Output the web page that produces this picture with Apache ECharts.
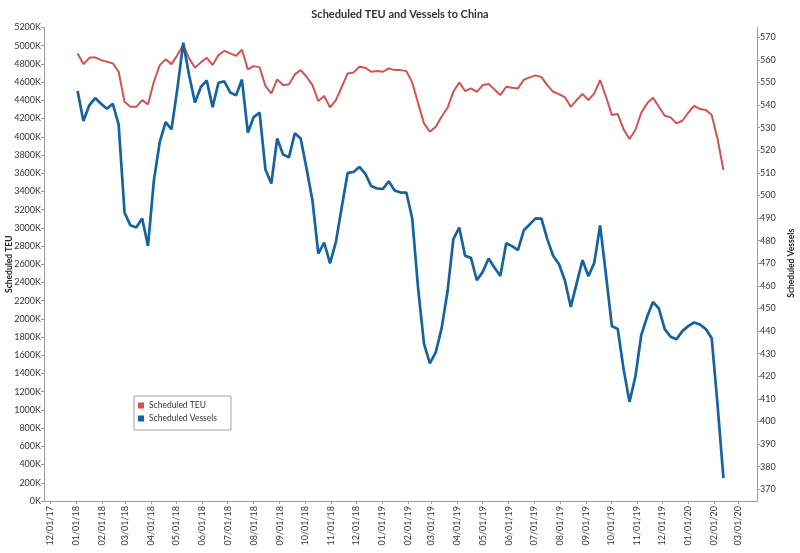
<!DOCTYPE html>
<html><head><meta charset="utf-8">
<script src="https://cdn.jsdelivr.net/npm/echarts@6/dist/echarts.min.js"></script>
<style>html,body{margin:0;padding:0;background:#fff}#c{width:800px;height:553px}</style>
</head><body><div id="c"></div><script>
// Weekly observations, first week starting 01/03/18
const firstWeek = '01/03/18';
const teu = [
 4915, 4798, 4867, 4872, 4842, 4824, 4806, 4714, 4384, 4329,
 4329, 4403, 4356, 4604, 4787, 4850, 4798, 4897, 5007, 4861,
 4758, 4817, 4867, 4787, 4897, 4944, 4916, 4889, 4955, 4740,
 4776, 4762, 4557, 4477, 4630, 4568, 4575, 4685, 4732, 4659,
 4568, 4392, 4447, 4323, 4403, 4549, 4696, 4707, 4769, 4758,
 4714, 4721, 4714, 4751, 4732, 4732, 4721, 4597, 4367, 4147,
 4055, 4110, 4220, 4318, 4494, 4597, 4502, 4531, 4494, 4568,
 4579, 4520, 4458, 4549, 4538, 4531, 4626, 4652, 4674, 4656,
 4568, 4494, 4469, 4433, 4329, 4403, 4469, 4403, 4477, 4623,
 4439, 4238, 4249, 4081, 3975, 4074, 4264, 4367, 4428, 4329,
 4231, 4213, 4147, 4176, 4264, 4340, 4304, 4293, 4238, 3975, 3634
];
const vessels = [
 546.2, 533.0, 539.9, 543.1, 540.6, 538.4, 540.6, 531.4, 492.5, 486.8,
 485.8, 489.8, 477.7, 506.7, 523.7, 532.5, 529.3, 547.3, 567.6, 553.2,
 541.1, 548.0, 550.9, 539.1, 549.9, 550.5, 545.6, 544.3, 551.3, 527.8,
 534.7, 536.7, 511.5, 505.3, 525.2, 518.1, 516.9, 527.5, 525.2, 511.9,
 497.9, 474.3, 479.2, 470.0, 479.5, 494.9, 510.0, 510.4, 512.6, 509.7,
 504.2, 503.1, 502.9, 506.3, 502.2, 501.3, 501.3, 489.8, 458.9, 434.5,
 425.7, 430.6, 441.2, 457.4, 480.7, 485.8, 473.3, 472.4, 462.5, 466.2,
 472.1, 468.1, 464.4, 478.9, 477.6, 475.8, 484.6, 487.2, 489.9, 489.8,
 480.7, 473.3, 469.6, 462.4, 450.7, 461.1, 471.4, 464.3, 470.2, 486.8,
 464.7, 442.2, 440.9, 423.1, 408.7, 419.8, 438.2, 446.3, 452.9, 450.0,
 440.9, 437.5, 436.4, 440.0, 442.2, 443.8, 442.9, 440.9, 436.8, 407.3, 374.9
];
const tickLabels = ['12/01/17','01/01/18','02/01/18','03/01/18','04/01/18','05/01/18','06/01/18',
 '07/01/18','08/01/18','09/01/18','10/01/18','11/01/18','12/01/18','01/01/19','02/01/19','03/01/19',
 '04/01/19','05/01/19','06/01/19','07/01/19','08/01/19','09/01/19','10/01/19','11/01/19','12/01/19',
 '01/01/20','02/01/20','03/01/20'];
const xRange = ['11/24/17', '03/23/20'];
const seriesNames = ['Scheduled TEU', 'Scheduled Vessels'];
const colors = ['#d55252', '#1563a0'];

function parseD(s){ const p = s.split('/').map(Number); return Date.UTC(2000 + p[2], p[0]-1, p[1]); }
const fw = parseD(firstWeek);
const DAY = 86400000;
const weeks = teu.map((_, i) => fw + 7 * i * DAY);
const tickVals = tickLabels.map(parseD);
const xMin = parseD(xRange[0]), xMax = parseD(xRange[1]);
function fmt(v){ const i = tickVals.indexOf(v); return i >= 0 ? tickLabels[i] : ''; }

const axisColor = '#9a9a9a';
const lblStyle = {fontSize: 9, color: '#333', fontFamily: 'Lato'};
const nameStyle = {fontWeight: 'bold', fontSize: 8.5, color: '#222', fontFamily: 'Lato'};
const chart = echarts.init(document.getElementById('c'));
chart.setOption({
  animation: false,
  textStyle: {fontFamily: 'Lato'},
  title: {text: 'Scheduled TEU and Vessels to China', left: 'center', top: 4,
    textStyle: {fontSize: 11, fontWeight: 'bold', color: '#333', fontFamily: 'Lato'}},
  legend: {data: seriesNames, orient: 'vertical', left: 134, top: 396, icon: 'rect',
    itemWidth: 6, itemHeight: 6, itemGap: 4, padding: [5, 14, 7, 4],
    borderColor: '#a0a0a0', borderWidth: 1, backgroundColor: '#fff',
    textStyle: {fontSize: 8.5, color: '#333', fontFamily: 'Lato'}},
  grid: [
    {left: 44, right: 43, top: 27.5, bottom: 52, outerBoundsMode: 'none', containLabel: false},
    {left: 44, right: 43, top: 37.3, bottom: 63.7, outerBoundsMode: 'none', containLabel: false}
  ],
  xAxis: [
    {type: 'value', gridIndex: 0, min: xMin, max: xMax,
     axisLine: {lineStyle: {color: axisColor}},
     axisTick: {show: true, customValues: tickVals, length: 3, lineStyle: {color: axisColor}},
     axisLabel: Object.assign({customValues: tickVals, rotate: 90, formatter: fmt, margin: 5}, lblStyle),
     splitLine: {show: false}},
    {type: 'value', gridIndex: 1, min: xMin, max: xMax, show: false, splitLine: {show: false}}
  ],
  yAxis: [
    {type: 'value', gridIndex: 0, min: 0, max: 5200, interval: 200,
     name: 'Scheduled TEU', nameLocation: 'middle', nameGap: 30, nameRotate: 90, nameMoveOverlap: false,
     nameTextStyle: nameStyle,
     axisLine: {show: true, lineStyle: {color: axisColor}},
     axisTick: {show: true, length: 3, lineStyle: {color: axisColor}},
     axisLabel: Object.assign({formatter: v => v + 'K', margin: 3}, lblStyle),
     splitLine: {show: false}},
    {type: 'value', gridIndex: 0, position: 'right', min: 0, max: 5200,
     axisLine: {show: true, lineStyle: {color: axisColor}},
     axisTick: {show: false}, axisLabel: {show: false}, splitLine: {show: false}},
    {type: 'value', gridIndex: 1, position: 'right', min: 370, max: 570, interval: 10,
     name: 'Scheduled Vessels', nameLocation: 'middle', nameGap: 30, nameRotate: 90, nameMoveOverlap: false,
     nameTextStyle: nameStyle,
     axisLine: {show: false},
     axisTick: {show: true, length: 3, lineStyle: {color: axisColor}},
     axisLabel: Object.assign({margin: 3}, lblStyle),
     splitLine: {show: false}}
  ],
  series: [
    {name: seriesNames[0], type: 'line', xAxisIndex: 0, yAxisIndex: 0, symbol: 'none',
     lineStyle: {width: 2, color: colors[0]}, itemStyle: {color: colors[0]},
     data: weeks.map((t, i) => [t, teu[i]])},
    {name: seriesNames[1], type: 'line', xAxisIndex: 1, yAxisIndex: 2, symbol: 'none',
     lineStyle: {width: 2.7, color: colors[1]}, itemStyle: {color: colors[1]},
     data: weeks.map((t, i) => [t, vessels[i]])}
  ]
});
</script></body></html>
